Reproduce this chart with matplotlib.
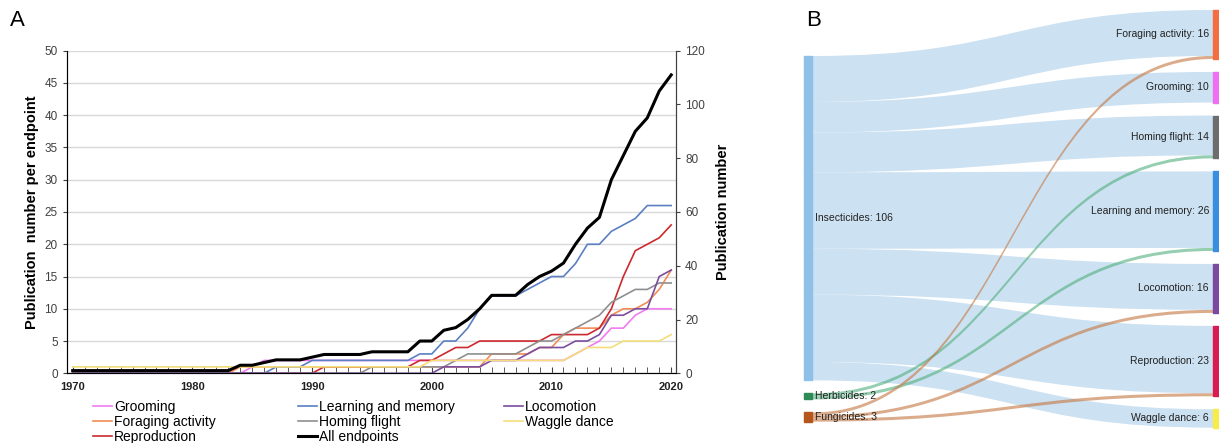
import numpy as np
import matplotlib.pyplot as plt
from matplotlib.path import Path
from matplotlib.patches import PathPatch, Rectangle
from matplotlib.lines import Line2D

plt.rcParams['font.family'] = ['Liberation Sans', 'DejaVu Sans']

# ---- panel A data (cumulative publications per year) ----
years = list(range(1970, 2021))
grooming = [0]*10 + [0, 0, 0, 0, 0, 1, 2, 2, 2, 2] + [2]*10 + [2]*10 + \
    [2, 2, 3, 4, 5, 7, 7, 9, 10, 10] + [10]
foraging = [0]*10 + [0, 0, 0, 0, 1, 1, 1, 1, 1, 1] + [1]*10 + \
    [1, 1, 1, 1, 1, 3, 3, 3, 3, 4] + [4, 6, 7, 7, 7, 9, 10, 10, 11, 13] + [16]
reproduction = [0]*10 + [0]*10 + [0, 1, 1, 1, 1, 1, 1, 1, 1, 2] + \
    [2, 3, 4, 4, 5, 5, 5, 5, 5, 5] + [6, 6, 6, 6, 7, 10, 15, 19, 20, 21] + [23]
learning = [0]*10 + [0, 0, 0, 0, 0, 0, 0, 1, 1, 1] + [2, 2, 2, 2, 2, 2, 2, 2, 2, 3] + \
    [3, 5, 5, 7, 10, 12, 12, 12, 13, 14] + [15, 15, 17, 20, 20, 22, 23, 24, 26, 26] + [26]
homing = [0]*10 + [0]*10 + [0, 0, 0, 0, 0, 1, 1, 1, 1, 1] + \
    [1, 1, 2, 3, 3, 3, 3, 3, 4, 5] + [5, 6, 7, 8, 9, 11, 12, 13, 13, 14] + [14]
locomotion = [0]*10 + [0]*10 + [0]*10 + [0, 1, 1, 1, 1, 2, 2, 2, 3, 4] + \
    [4, 4, 5, 5, 6, 9, 9, 10, 10, 15] + [16]
waggle = [1]*10 + [1]*10 + [1]*10 + [2]*10 + [2, 2, 3, 4, 4, 4, 5, 5, 5, 5] + [6]
all_endpoints = [1]*10 + [1, 1, 1, 1, 3, 3, 4, 5, 5, 5] + [6, 7, 7, 7, 7, 8, 8, 8, 8, 12] + \
    [12, 16, 17, 20, 24, 29, 29, 29, 33, 36] + [38, 41, 48, 54, 58, 72, 81, 90, 95, 105] + [111]

series = [
    ('Grooming', grooming, '#f07cf0'),
    ('Foraging activity', foraging, '#f28c55'),
    ('Reproduction', reproduction, '#cc2a2f'),
    ('Learning and memory', learning, '#5b7fc2'),
    ('Homing flight', homing, '#8f8f8f'),
    ('Locomotion', locomotion, '#7b4d9e'),
    ('Waggle dance', waggle, '#f3de7a'),
]

# ---- panel B data (sankey) ----
sources = ['Insecticides', 'Herbicides', 'Fungicides']
source_colors = ['#8ec0e8', '#2e8b57', '#b5561c']
targets = ['Foraging activity', 'Grooming', 'Homing flight', 'Learning and memory',
           'Locomotion', 'Reproduction', 'Waggle dance']
target_colors = ['#f46d43', '#ee6ff0', '#6d6d6d', '#3a8ee0', '#7b4aa0', '#d81b50', '#f8ec4a']
flows = [
    [15, 10, 13, 25, 15, 22, 6],   # insecticides
    [0, 0, 1, 1, 0, 0, 0],         # herbicides
    [1, 0, 0, 0, 1, 1, 0],         # fungicides
]
flow_colors = ['#cce1f2', '#4fae7c', '#c4763f']
flow_alpha = [1.0, 0.6, 0.6]

W, H = 1219, 443
fig = plt.figure(figsize=(W/100, H/100), dpi=100)

# ================= panel A =================
ax = fig.add_axes([66.7/W, 69.7/H, 609.3/W, 322.6/H])
for name, vals, col in series:
    ax.plot(years, vals, color=col, lw=1.2)
ax.set_xlim(1969.5, 2020.4)
ax.set_ylim(0, 50)
ax.set_yticks(range(0, 51, 5))
ax.set_xticks(range(1970, 2021, 10))
ax.set_xticks(years, minor=True)
ax.grid(axis='y', color='#d9d9d9', lw=1)
ax.set_axisbelow(True)
ax.tick_params(axis='x', which='both', direction='in', length=4, color='#404040',
               labelsize=8, labelcolor='#222222', pad=6)
ax.tick_params(axis='y', direction='out', length=3, color='#404040',
               labelsize=8.5, labelcolor='#404040')
for lab in ax.get_xticklabels():
    lab.set_fontweight('bold')
ax.spines['top'].set_visible(False)
for s in ['left', 'bottom', 'right']:
    ax.spines[s].set_color('#404040')
ax.set_ylabel('Publication  number per endpoint', fontsize=10.5, fontweight='bold', labelpad=4)

ax2 = ax.twinx()
ax2.plot(years, all_endpoints, color='black', lw=2.2)
ax2.set_ylim(0, 120)
ax2.set_yticks(range(0, 121, 20))
ax2.tick_params(axis='y', direction='out', length=3, color='#404040',
                labelsize=8.5, labelcolor='#404040')
ax2.spines['top'].set_visible(False)
ax2.spines['right'].set_color('#404040')
ax2.set_ylabel('Publication number', fontsize=10.5, fontweight='bold', labelpad=8)

# legend, three columns placed separately
handles = {name: Line2D([], [], color=col, lw=1.2) for name, vals, col in series}
handles['All endpoints'] = Line2D([], [], color='black', lw=2.2)
columns = [['Grooming', 'Foraging activity', 'Reproduction'],
           ['Learning and memory', 'Homing flight', 'All endpoints'],
           ['Locomotion', 'Waggle dance']]
col_x = [93, 298, 504]
for cx, names in zip(col_x, columns):
    fig.legend([handles[n] for n in names], names, loc='upper left',
               bbox_to_anchor=(cx/W, 1 - 400/H), frameon=False, fontsize=10,
               handlelength=1.4, handletextpad=0.1, labelspacing=0.08,
               borderpad=0, borderaxespad=0)

fig.text(10/W, 1 - 21/H, 'A', fontsize=16, va='center')
fig.text(806/W, 1 - 20/H, 'B', fontsize=16, va='center')

# ================= panel B =================
axb = fig.add_axes([795/W, 0, 424/W, 1])
axb.set_xlim(795, 1219)
axb.set_ylim(443, 0)
axb.axis('off')

k = 3.06      # px per publication
gap = 13
xl, wl = 804, 8
xr, wr = 1213, 6

src_tot = [sum(f) for f in flows]
tgt_tot = [sum(f[j] for f in flows) for j in range(len(targets))]

src_top = []
y = 56
for v in src_tot:
    src_top.append(y)
    y += v * k + gap
tgt_top = []
y = 10
for v in tgt_tot:
    tgt_top.append(y)
    y += v * k + gap


def band(x0, y0a, y0b, x1, y1a, y1b):
    xm = (x0 + x1) / 2
    verts = [(x0, y0a), (xm, y0a), (xm, y1a), (x1, y1a),
             (x1, y1b), (xm, y1b), (xm, y0b), (x0, y0b), (x0, y0a)]
    codes = [Path.MOVETO, Path.CURVE4, Path.CURVE4, Path.CURVE4,
             Path.LINETO, Path.CURVE4, Path.CURVE4, Path.CURVE4, Path.CLOSEPOLY]
    return Path(verts, codes)


src_off = list(src_top)
tgt_off = list(tgt_top)
for i, row in enumerate(flows):
    for j, v in enumerate(row):
        if v == 0:
            continue
        h = v * k
        p = band(xl + wl, src_off[i], src_off[i] + h, xr, tgt_off[j], tgt_off[j] + h)
        axb.add_patch(PathPatch(p, facecolor=flow_colors[i], edgecolor='none',
                                alpha=flow_alpha[i], zorder=1 + i))
        src_off[i] += h
        tgt_off[j] += h

for i, name in enumerate(sources):
    h = src_tot[i] * k
    axb.add_patch(Rectangle((xl, src_top[i]), wl, h, color=source_colors[i], zorder=5))
    axb.text(xl + wl + 3, src_top[i] + h / 2, f'{name}: {src_tot[i]}', fontsize=7.5,
             ha='left', va='center', color='#222222', zorder=6)

for j, name in enumerate(targets):
    h = tgt_tot[j] * k
    axb.add_patch(Rectangle((xr, tgt_top[j]), wr, h, color=target_colors[j], zorder=5))
    axb.text(xr - 4, tgt_top[j] + h / 2, f'{name}: {tgt_tot[j]}', fontsize=7.5,
             ha='right', va='center', color='#222222', zorder=6)

fig.savefig('out.png', dpi=100)
